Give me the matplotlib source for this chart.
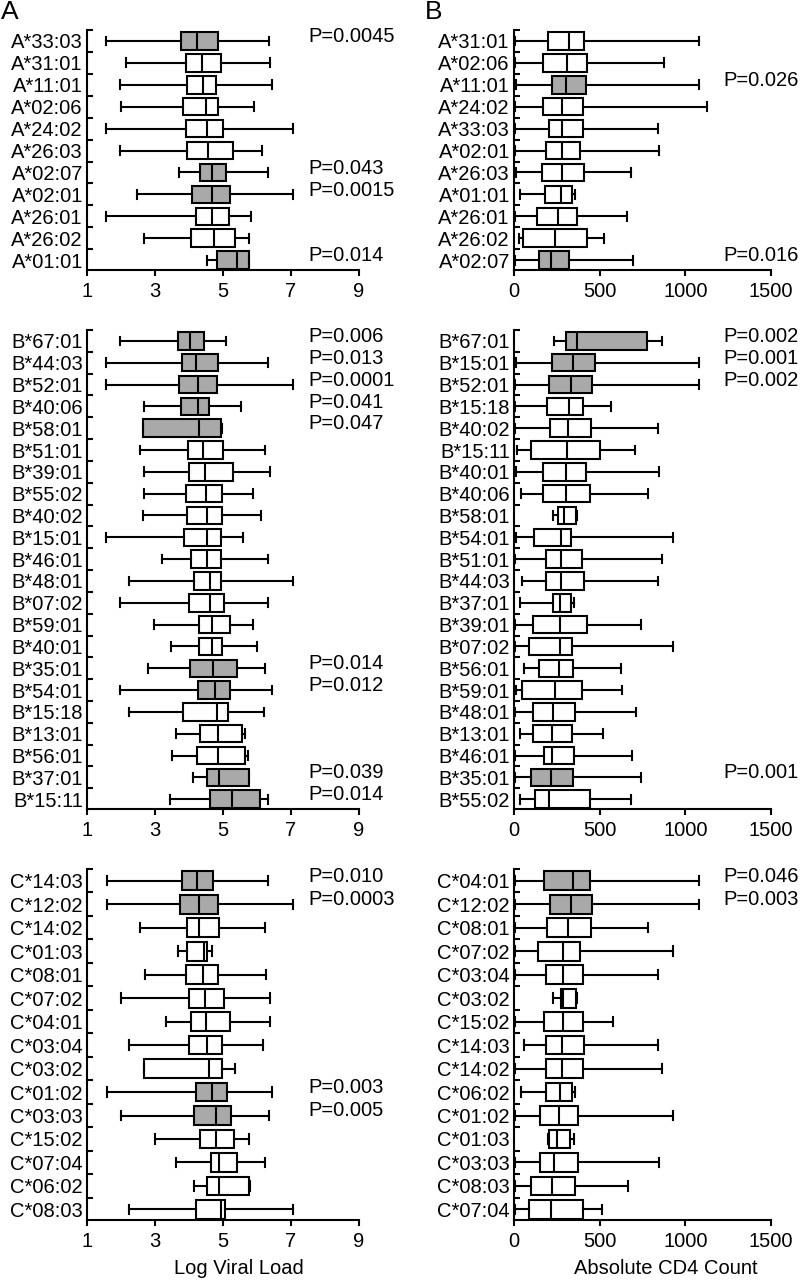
import matplotlib
matplotlib.use("Agg")
from matplotlib import pyplot as plt
from matplotlib.ticker import FixedLocator

plt.rcParams['font.family'] = ['Liberation Sans', 'DejaVu Sans']

# each row: whisker low, q1, median, q3, whisker high
# ---- HLA-A ----
vl_a_labels = ['A*33:03', 'A*31:01', 'A*11:01', 'A*02:06', 'A*24:02', 'A*26:03',
               'A*02:07', 'A*02:01', 'A*26:01', 'A*26:02', 'A*01:01']
vl_a_stats = [[1.57, 3.76, 4.24, 4.84, 6.34], [2.14, 3.90, 4.39, 4.93, 6.38],
              [1.96, 3.95, 4.42, 4.78, 6.43], [2.01, 3.83, 4.51, 4.86, 5.91],
              [1.55, 3.90, 4.53, 5.00, 7.05], [1.96, 3.94, 4.56, 5.30, 6.16],
              [3.71, 4.32, 4.68, 5.10, 6.33], [2.48, 4.09, 4.68, 5.20, 7.05],
              [1.55, 4.22, 4.68, 5.18, 5.81], [2.68, 4.07, 4.74, 5.35, 5.77],
              [4.53, 4.81, 5.40, 5.76, 5.76]]
vl_a_pvals = {0: 'P=0.0045', 6: 'P=0.043', 7: 'P=0.0015', 10: 'P=0.014'}

cd4_a_labels = ['A*31:01', 'A*02:06', 'A*11:01', 'A*24:02', 'A*33:03', 'A*02:01',
                'A*26:03', 'A*01:01', 'A*26:01', 'A*26:02', 'A*02:07']
cd4_a_stats = [[5, 200, 323, 409, 1080], [5, 171, 311, 428, 877],
               [12, 220, 302, 418, 1082], [5, 171, 282, 401, 1128],
               [5, 206, 278, 401, 839], [5, 187, 278, 385, 848],
               [12, 165, 278, 409, 683], [35, 181, 272, 340, 356],
               [5, 136, 257, 370, 661], [29, 54, 241, 428, 525],
               [5, 146, 216, 321, 693]]
cd4_a_pvals = {2: 'P=0.026', 10: 'P=0.016'}

# ---- HLA-B ----
vl_b_labels = ['B*67:01', 'B*44:03', 'B*52:01', 'B*40:06', 'B*58:01', 'B*51:01',
               'B*39:01', 'B*55:02', 'B*40:02', 'B*15:01', 'B*46:01', 'B*48:01',
               'B*07:02', 'B*59:01', 'B*40:01', 'B*35:01', 'B*54:01', 'B*15:18',
               'B*13:01', 'B*56:01', 'B*37:01', 'B*15:11']
vl_b_stats = [[1.98, 3.68, 4.02, 4.45, 5.08], [1.57, 3.78, 4.22, 4.84, 6.31],
              [1.57, 3.70, 4.27, 4.81, 7.06], [2.68, 3.76, 4.27, 4.59, 5.54],
              [2.65, 2.65, 4.29, 4.95, 4.98], [2.55, 3.97, 4.42, 5.00, 6.23],
              [2.68, 4.00, 4.46, 5.30, 6.38], [2.68, 3.90, 4.49, 4.97, 5.87],
              [2.65, 3.95, 4.53, 4.97, 6.11], [1.57, 3.85, 4.53, 4.93, 5.59],
              [3.22, 4.05, 4.53, 4.94, 6.33], [2.24, 4.14, 4.63, 4.93, 7.06],
              [1.98, 4.00, 4.63, 5.03, 6.33], [2.97, 4.29, 4.68, 5.20, 5.89],
              [3.46, 4.29, 4.68, 4.98, 6.01], [2.78, 4.02, 4.71, 5.40, 6.23],
              [1.96, 4.25, 4.76, 5.20, 6.45], [2.24, 3.83, 4.83, 5.15, 6.20],
              [3.61, 4.32, 4.86, 5.56, 5.64], [3.50, 4.24, 4.86, 5.66, 5.74],
              [4.12, 4.53, 4.88, 5.76, 5.76], [3.45, 4.61, 5.27, 6.08, 6.33]]
vl_b_pvals = {0: 'P=0.006', 1: 'P=0.013', 2: 'P=0.0001', 3: 'P=0.041', 4: 'P=0.047',
              15: 'P=0.014', 16: 'P=0.012', 20: 'P=0.039', 21: 'P=0.014'}

cd4_b_labels = ['B*67:01', 'B*15:01', 'B*52:01', 'B*15:18', 'B*40:02', 'B*15:11',
                'B*40:01', 'B*40:06', 'B*58:01', 'B*54:01', 'B*51:01', 'B*44:03',
                'B*37:01', 'B*39:01', 'B*07:02', 'B*56:01', 'B*59:01', 'B*48:01',
                'B*13:01', 'B*46:01', 'B*35:01', 'B*55:02']
cd4_b_stats = [[233, 304, 370, 774, 862], [12, 220, 346, 473, 1082],
               [5, 206, 331, 453, 1082], [5, 191, 323, 405, 564],
               [5, 210, 317, 449, 839], [19, 97, 311, 502, 706],
               [10, 167, 303, 418, 848], [39, 167, 303, 444, 780],
               [226, 255, 294, 360, 366], [10, 119, 276, 331, 930],
               [3, 185, 272, 399, 862], [49, 185, 272, 409, 839],
               [35, 230, 268, 333, 352], [5, 113, 268, 424, 739],
               [5, 89, 268, 337, 930], [58, 146, 263, 342, 625],
               [12, 45, 239, 395, 628], [5, 109, 230, 356, 710],
               [35, 113, 224, 340, 521], [5, 175, 220, 350, 691],
               [5, 97, 216, 342, 739], [35, 123, 206, 444, 683]]
cd4_b_pvals = {0: 'P=0.002', 1: 'P=0.001', 2: 'P=0.002', 20: 'P=0.001'}

# ---- HLA-C ----
vl_c_labels = ['C*14:03', 'C*12:02', 'C*14:02', 'C*01:03', 'C*08:01', 'C*07:02',
               'C*04:01', 'C*03:04', 'C*03:02', 'C*01:02', 'C*03:03', 'C*15:02',
               'C*07:04', 'C*06:02', 'C*08:03']
vl_c_stats = [[1.60, 3.80, 4.24, 4.71, 6.33], [1.59, 3.73, 4.29, 4.84, 7.06],
              [2.57, 3.94, 4.30, 4.88, 6.23], [3.68, 3.94, 4.43, 4.53, 4.68],
              [2.72, 3.92, 4.40, 4.86, 6.25], [1.99, 3.99, 4.48, 5.03, 6.38],
              [3.32, 4.07, 4.51, 5.20, 6.38], [2.24, 3.99, 4.54, 4.97, 6.18],
              [2.67, 2.67, 4.58, 4.98, 5.35], [1.60, 4.20, 4.68, 5.13, 6.45],
              [1.99, 4.15, 4.79, 5.23, 6.35], [2.99, 4.32, 4.79, 5.33, 5.77],
              [3.63, 4.64, 4.88, 5.42, 6.23], [4.14, 4.53, 4.89, 5.76, 5.79],
              [2.24, 4.22, 4.95, 5.05, 7.06]]
vl_c_pvals = {0: 'P=0.010', 1: 'P=0.0003', 9: 'P=0.003', 10: 'P=0.005'}

cd4_c_labels = ['C*04:01', 'C*12:02', 'C*08:01', 'C*07:02', 'C*03:04', 'C*03:02',
                'C*15:02', 'C*14:03', 'C*14:02', 'C*06:02', 'C*01:02', 'C*01:03',
                'C*03:03', 'C*08:03', 'C*07:04']
cd4_c_stats = [[5, 175, 346, 444, 1080], [5, 210, 331, 453, 1080],
               [5, 191, 317, 449, 784], [5, 142, 288, 385, 930],
               [5, 185, 288, 405, 842], [230, 274, 288, 362, 366],
               [5, 177, 288, 401, 576], [58, 187, 278, 409, 842],
               [5, 187, 278, 405, 862], [41, 187, 268, 340, 356],
               [5, 152, 265, 372, 930], [196, 206, 253, 327, 350],
               [5, 152, 233, 372, 848], [5, 99, 220, 356, 663],
               [5, 88, 214, 405, 516]]
cd4_c_pvals = {0: 'P=0.046', 1: 'P=0.003'}

FS = 14.5
GREY = '#a9a9a9'
W, H = 800, 1281


def panel(rect, labels, stats, pvals, xlim, xticks, ptext_x):
    x0, y0, x1, y1 = rect
    ax = fig.add_axes([x0 / W, 1 - y1 / H, (x1 - x0) / W, (y1 - y0) / H])
    n = len(labels)
    bs = []
    for lab, (lo, q1, med, q3, hi) in zip(labels, stats):
        bs.append(dict(label=lab, whislo=lo, q1=q1, med=med, q3=q3, whishi=hi, fliers=[]))
    lw = 1.5
    art = ax.bxp(bs, positions=range(n), widths=0.8, orientation='horizontal',
                 patch_artist=True, showfliers=False,
                 boxprops=dict(edgecolor='black', linewidth=lw),
                 medianprops=dict(color='black', linewidth=lw),
                 whiskerprops=dict(color='black', linewidth=lw),
                 capprops=dict(color='black', linewidth=lw))
    for i, box in enumerate(art['boxes']):
        box.set_facecolor(GREY if i in pvals else 'white')
    for i, txt in pvals.items():
        ax.text(ptext_x, i - 0.2, txt, fontsize=FS, va='center', ha='left')
    ax.set_ylim(n - 1 + 0.45, -0.5)
    ax.set_xlim(*xlim)
    ax.set_xticks(xticks)
    ax.set_yticks(range(n))
    ax.set_yticklabels(labels)
    ax.yaxis.set_minor_locator(FixedLocator([i - 0.5 for i in range(n)]))
    ax.tick_params(axis='y', which='major', length=0, pad=3, labelsize=FS)
    ax.tick_params(axis='y', which='minor', direction='in', length=4.5, width=lw)
    ax.tick_params(axis='x', which='major', direction='out', length=4.5, width=lw,
                   pad=4, labelsize=FS)
    ax.spines['top'].set_visible(False)
    ax.spines['right'].set_visible(False)
    ax.spines['left'].set_linewidth(lw)
    ax.spines['bottom'].set_linewidth(lw)
    return ax


fig = plt.figure(figsize=(8, 12.81), dpi=100)

vl_lim, vl_ticks = (1, 9), [1, 3, 5, 7, 9]
cd_lim, cd_ticks = (0, 1500), [0, 500, 1000, 1500]

panel((87, 30, 359, 270), vl_a_labels, vl_a_stats, vl_a_pvals, vl_lim, vl_ticks, 7.5)
panel((514, 30, 771, 270), cd4_a_labels, cd4_a_stats, cd4_a_pvals, cd_lim, cd_ticks, 1220)
panel((87, 330, 359, 809), vl_b_labels, vl_b_stats, vl_b_pvals, vl_lim, vl_ticks, 7.5)
panel((514, 330, 771, 809), cd4_b_labels, cd4_b_stats, cd4_b_pvals, cd_lim, cd_ticks, 1220)
ax_c1 = panel((87, 869, 359, 1220), vl_c_labels, vl_c_stats, vl_c_pvals, vl_lim, vl_ticks, 7.5)
ax_c2 = panel((514, 869, 771, 1220), cd4_c_labels, cd4_c_stats, cd4_c_pvals, cd_lim, cd_ticks, 1220)

# axis titles sit ~48 px below the bottom spine
ax_c1.set_xlabel('Log Viral Load', fontsize=FS, va='center')
ax_c1.xaxis.set_label_coords(0.56, -48 / 351)
ax_c2.set_xlabel('Absolute CD4 Count', fontsize=FS, va='center')
ax_c2.xaxis.set_label_coords(0.59, -48 / 351)

fig.text(1 / W, 1 - 12 / H, 'A', fontsize=19, ha='left', va='center')
fig.text(425 / W, 1 - 12 / H, 'B', fontsize=19, ha='left', va='center')

fig.savefig('out.png', dpi=100)
